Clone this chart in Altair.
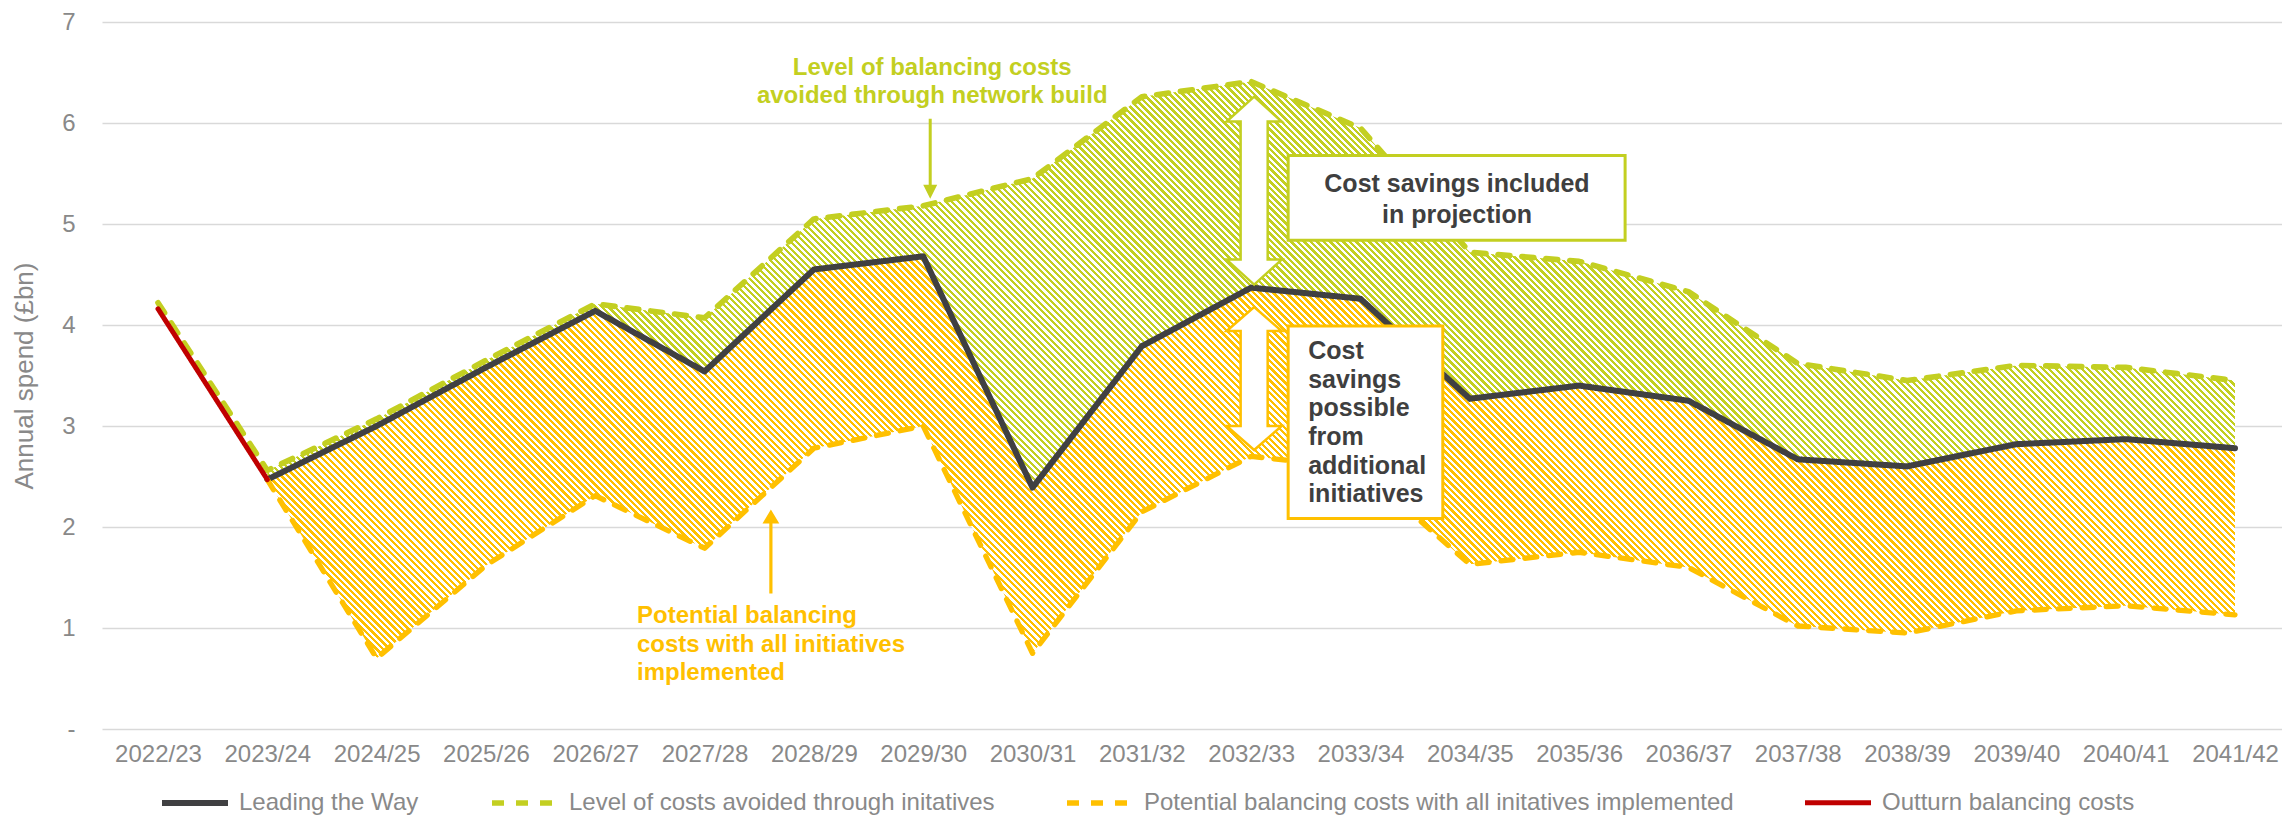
import altair as alt
import pandas as pd

# ---------------- data ----------------
categories = ["2022/23", "2023/24", "2024/25", "2025/26", "2026/27", "2027/28", "2028/29",
              "2029/30", "2030/31", "2031/32", "2032/33", "2033/34", "2034/35", "2035/36",
              "2036/37", "2037/38", "2038/39", "2039/40", "2040/41", "2041/42"]

leading_the_way = [None, 2.47, 3.00, 3.58, 4.14, 3.54, 4.55, 4.68, 2.39, 3.79, 4.37, 4.26,
                   3.27, 3.40, 3.25, 2.67, 2.60, 2.82, 2.87, 2.78]
costs_avoided = [4.22, 2.56, 3.07, 3.65, 4.21, 4.07, 5.05, 5.18, 5.45, 6.26, 6.41, 5.95,
                 4.72, 4.63, 4.33, 3.62, 3.45, 3.60, 3.58, 3.45]
potential_costs = [None, 2.47, 0.70, 1.62, 2.31, 1.79, 2.78, 3.00, 0.75, 2.15, 2.70, 2.58,
                   1.63, 1.75, 1.60, 1.02, 0.95, 1.17, 1.22, 1.13]
outturn = [4.16, 2.47] + [None] * 18

series_names = ["Leading the Way",
                "Level of costs avoided through initatives",
                "Potential balancing costs with all initatives implemented",
                "Outturn balancing costs"]

y_ticks = [0, 1, 2, 3, 4, 5, 6, 7]

# ---------------- style ----------------
FONT = "Liberation Sans"
GREY = "#898989"
DARK = "#404042"
GREEN = "#c3cf21"
ORANGE = "#ffc000"
RED = "#c00000"
W, H = 2180, 707
YMAX = 7
PAD = 0.4711
ALIGN = 0.5437
STEP = W / (len(categories) - 1 + 2 * PAD)
PITCH = 6.5

# ---------------- frames ----------------
line_rows = []
for name, vals in zip(series_names, [leading_the_way, costs_avoided, potential_costs, outturn]):
    for c, v in zip(categories, vals):
        if v is not None:
            line_rows.append({"cat": c, "val": v, "series": name})
line_df = pd.DataFrame(line_rows)

area_df = pd.DataFrame({
    "cat": categories[1:],
    "dark": leading_the_way[1:],
    "green": costs_avoided[1:],
    "orange": potential_costs[1:],
})


def hatch(color, top_vals, bottom_vals, i0, i1):
    w = STEP * (i1 - i0)
    ypx = lambda v: H * (1 - v / YMAX)
    h = ypx(min(bottom_vals)) - ypx(max(top_vals))
    total = w + h
    n = int(round(total / PITCH))
    s = total / (w * w + h * h)
    stops = []
    for k in range(n):
        a, b, c = k / n, (k + 0.5) / n, (k + 1) / n
        stops += [{"offset": round(a, 6), "color": color},
                  {"offset": round(b, 6), "color": color},
                  {"offset": round(b, 6), "color": "#ffffff"},
                  {"offset": round(c, 6), "color": "#ffffff"}]
    return {"gradient": "linear", "x1": 0, "y1": 1,
            "x2": round(s * w, 6), "y2": round(1 - s * h, 6), "stops": stops}


green_fill = hatch(GREEN, area_df["green"].tolist(), area_df["dark"].tolist(), 1, 19)
orange_fill = hatch(ORANGE, area_df["dark"].tolist(), area_df["orange"].tolist(), 1, 19)

# ---------------- encodings ----------------
xscale = alt.Scale(type="point", domain=categories, padding=PAD, align=ALIGN)
yscale = alt.Scale(domain=[0, YMAX], nice=False, zero=True)

xaxis = alt.Axis(title=None, labelFont=FONT, labelFontSize=24, labelColor=GREY,
                 labelPadding=13, labelAngle=0, domain=False, ticks=False, grid=False,
                 labelOverlap=False)
yaxis = alt.Axis(values=y_ticks, title="Annual spend (£bn)",
                 labelExpr="datum.value == 0 ? '-  ' : datum.label",
                 titleFont=FONT, titleFontSize=26, titleFontWeight="normal", titleColor=GREY,
                 titleX=-78, titleY=H / 2, titleAngle=270, titleBaseline="middle",
                 titleAlign="center",
                 labelFont=FONT, labelFontSize=24, labelColor=GREY, labelPadding=27,
                 grid=True, gridColor="#d9d9d9", gridWidth=1.5, domain=False, ticks=False)


def X(field="cat"):
    return alt.X(f"{field}:N", scale=xscale, axis=xaxis)


def Y(field="val"):
    return alt.Y(f"{field}:Q", scale=yscale, axis=yaxis)


# ---------------- layers ----------------
green_area = alt.Chart(area_df).mark_area(fill=green_fill, opacity=1, interpolate="linear").encode(
    x=X(), y=Y("green"), y2="dark:Q")
orange_area = alt.Chart(area_df).mark_area(fill=orange_fill, opacity=1, interpolate="linear").encode(
    x=X(), y=Y("dark"), y2="orange:Q")

legend = alt.Legend(title=None, orient="none", legendX=57, legendY=745, direction="horizontal",
                    columns=4, symbolType="stroke", symbolSize=4356, symbolStrokeWidth=7,
                    labelFont=FONT, labelFontSize=24, labelColor=GREY, labelOffset=8,
                    columnPadding=61, labelLimit=1000)

lines = alt.Chart(line_df).mark_line(strokeCap="round", strokeJoin="round").encode(
    x=X(), y=Y(),
    color=alt.Color("series:N", sort=series_names,
                    scale=alt.Scale(domain=series_names, range=[DARK, GREEN, ORANGE, RED]),
                    legend=legend),
    strokeDash=alt.StrokeDash("series:N", sort=series_names,
                              scale=alt.Scale(domain=series_names,
                                              range=[[1, 0], [12, 12], [12, 12], [1, 0]]),
                              legend=legend),
    strokeWidth=alt.StrokeWidth("series:N",
                                scale=alt.Scale(domain=series_names, range=[6, 5, 5, 6.5]),
                                legend=None),
)

# annotation boxes
box_green_df = pd.DataFrame({"cat": ["2032/33"], "cat2": ["2035/36"], "val": [5.677], "val2": [4.838]})
box_orange_df = pd.DataFrame({"cat": ["2032/33"], "cat2": ["2034/35"], "val": [3.989], "val2": [2.083]})
box_green = alt.Chart(box_green_df).mark_rect(fill="white", stroke=GREEN, strokeWidth=3,
                                             xOffset=37, x2Offset=46).encode(
    x=X(), x2="cat2:N", y=Y(), y2="val2:Q")
box_orange = alt.Chart(box_orange_df).mark_rect(fill="white", stroke=ORANGE, strokeWidth=3,
                                               xOffset=37, x2Offset=-27).encode(
    x=X(), x2="cat2:N", y=Y(), y2="val2:Q")

# double arrows
dbl_green_path = ("M0,-1 L0.293,-0.734 L0.144,-0.734 L0.144,0.734 L0.293,0.734 L0,1 "
                  "L-0.293,0.734 L-0.144,0.734 L-0.144,-0.734 L-0.293,-0.734 Z")
dbl_orange_path = ("M0,-1 L0.385,-0.664 L0.189,-0.664 L0.189,0.664 L0.385,0.664 L0,1 "
                   "L-0.385,0.664 L-0.189,0.664 L-0.189,-0.664 L-0.385,-0.664 Z")
dbl_green = alt.Chart(pd.DataFrame({"cat": ["2032/33"], "val": [5.331]})).mark_point(
    shape=dbl_green_path, size=35344, filled=True, fill="white", stroke=GREEN,
    strokeWidth=2.5, opacity=1, xOffset=3).encode(x=X(), y=Y())
dbl_orange = alt.Chart(pd.DataFrame({"cat": ["2032/33"], "val": [3.470]})).mark_point(
    shape=dbl_orange_path, size=20449, filled=True, fill="white", stroke=ORANGE,
    strokeWidth=2.5, opacity=1, xOffset=3).encode(x=X(), y=Y())

# single arrows
down_path = "M0,1 L0.175,0.65 L0.0375,0.65 L0.0375,-1 L-0.0375,-1 L-0.0375,0.65 L-0.175,0.65 Z"
up_path = "M0,-1 L0.2,-0.667 L0.038,-0.667 L0.038,1 L-0.038,1 L-0.038,-0.667 L-0.2,-0.667 Z"
arrow_green = alt.Chart(pd.DataFrame({"cat": ["2029/30"], "val": [5.647]})).mark_point(
    shape=down_path, size=6400, filled=True, fill=GREEN, strokeWidth=0, opacity=1,
    xOffset=7).encode(x=X(), y=Y())
arrow_orange = alt.Chart(pd.DataFrame({"cat": ["2028/29"], "val": [1.757]})).mark_point(
    shape=up_path, size=7056, filled=True, fill=ORANGE, strokeWidth=0, opacity=1,
    xOffset=-43).encode(x=X(), y=Y())

# texts
txt_green_top = pd.DataFrame({"cat": ["2029/30"] * 2, "val": [6.546, 6.269],
                              "text": ["Level of balancing costs", "avoided through network build"]})
txt_orange_bottom = pd.DataFrame({"cat": ["2027/28"] * 3, "val": [1.116, 0.829, 0.553],
                                  "text": ["Potential balancing", "costs with all initiatives",
                                           "implemented"]})
txt_box_green = pd.DataFrame({"cat": ["2033/34"] * 2, "val": [5.400, 5.085],
                              "text": ["Cost savings included", "in projection"]})
txt_box_orange = pd.DataFrame({"cat": ["2032/33"] * 6,
                               "val": [3.742, 3.456, 3.179, 2.893, 2.606, 2.330],
                               "text": ["Cost", "savings", "possible", "from", "additional",
                                        "initiatives"]})


def text_layer(df, color, align, dx, size=24):
    return alt.Chart(df).mark_text(font=FONT, fontSize=size, fontWeight="bold", color=color,
                                   align=align, baseline="middle", dx=dx).encode(
        x=X(), y=Y(), text="text:N")


t1 = text_layer(txt_green_top, GREEN, "center", 9)
t2 = text_layer(txt_orange_bottom, ORANGE, "left", -67.6)
t3 = text_layer(txt_box_green, "#3f3f3f", "center", 96.5, 25)
t4 = text_layer(txt_box_orange, "#3f3f3f", "left", 57, 25)

chart = alt.layer(
    green_area, orange_area, lines, box_green, box_orange, dbl_green, dbl_orange,
    arrow_green, arrow_orange, t1, t2, t3, t4
).properties(
    width=W, height=H,
    autosize=alt.AutoSizeParams(type="none"),
    padding={"left": 94, "top": 14, "right": 0, "bottom": 92},
).configure_view(stroke=None).resolve_scale(x="shared", y="shared")

chart.save("out.html", embed_options={"renderer": "svg", "actions": False})
